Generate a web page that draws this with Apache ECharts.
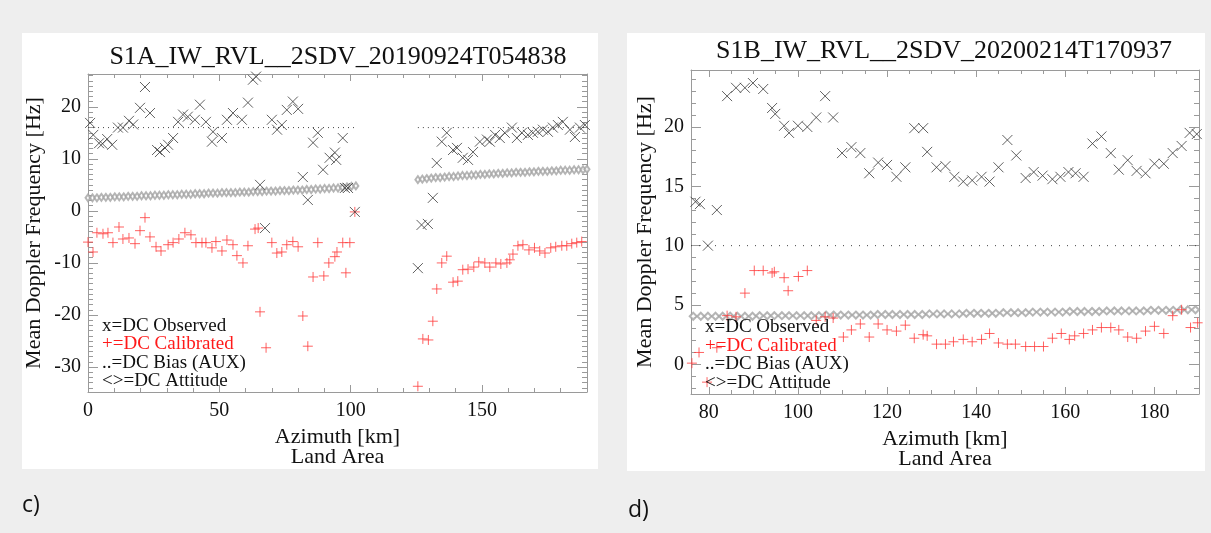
<!DOCTYPE html>
<html>
<head>
<meta charset="utf-8">
<script src="https://cdn.jsdelivr.net/npm/echarts@6/dist/echarts.min.js"></script>
<style>
html,body{margin:0;padding:0;background:#eeeeee;}
#chart{width:1211px;height:533px;}
</style>
</head>
<body>
<div id="chart"></div>
<script>
// ---------- Panel c) S1A scene ----------
const titleA = 'S1A_IW_RVL__2SDV_20190924T054838';
const xRangeA = [0, 190];
const yRangeA = [-34.8, 26.3];
const xTicksA = [0, 50, 100, 150];
const yTicksA = [-30, -20, -10, 0, 10, 20];
const xMinorStepA = 10;
const yMinorStepA = 1;

// DC observed [azimuth km, Hz]
const observedA = [
  [0.8,16.9],[2.0,14.6],[4.2,13.0],[5.5,12.9],[7.3,13.8],[9.2,12.7],[11.4,16.0],[13.3,16.0],
  [15.6,17.3],[17.2,16.6],[19.8,19.8],[21.7,23.8],[23.6,18.8],[26.3,11.7],[27.4,11.3],[29.3,12.1],
  [30.5,12.7],[32.4,14.0],[34.3,17.1],[36.2,18.5],[38.0,18.1],[40.7,17.5],[42.6,20.4],[44.9,17.1],
  [47.2,13.3],[47.6,15.2],[51.0,14.0],[52.9,17.5],[55.2,18.8],[58.6,17.5],[60.9,20.8],[62.8,25.2],
  [64.0,25.8],[65.5,5.0],[67.4,-3.3],[70.0,17.5],[72.0,15.6],[73.8,16.5],[75.7,19.4],[78.0,21.0],
  [80.0,19.6],[81.8,6.5],[83.7,2.1],[85.7,13.1],[87.5,15.0],[89.5,7.9],[92.0,10.2],[94.0,11.2],
  [94.5,9.8],[97.0,14.0],[97.8,4.4],[99.0,4.4],[101.6,-0.2],
  [125.6,-11.0],[127.0,-2.7],[129.4,-2.5],[131.3,2.5],[132.8,9.2],[134.7,13.3],[136.6,15.0],
  [139.0,11.7],[140.5,12.1],[142.7,10.2],[144.7,9.8],[146.6,11.3],[149.2,13.3],[151.9,13.7],
  [153.0,13.3],[155.0,14.6],[156.8,14.0],[158.7,15.0],[161.4,16.0],[163.3,14.0],[165.2,15.0],
  [167.5,14.6],[169.4,15.0],[171.3,15.2],[173.2,15.6],[175.1,15.2],[177.0,16.0],[178.9,16.5],
  [180.8,17.1],[183.5,15.6],[185.4,14.2],[187.3,16.0],[189.2,16.5]
];
// DC calibrated [azimuth km, Hz]
const calibratedA = [
  [0.0,-6.0],[1.9,-7.9],[3.4,-4.2],[5.7,-4.4],[7.6,-4.2],[9.5,-6.1],[11.8,-3.1],[13.3,-5.4],
  [15.6,-5.2],[17.9,-6.3],[19.8,-3.8],[21.7,-1.3],[23.6,-5.0],[25.9,-6.9],[27.8,-7.7],[30.5,-6.5],
  [32.4,-6.1],[34.6,-5.4],[36.9,-4.2],[39.2,-4.6],[41.1,-6.1],[43.4,-6.1],[44.9,-6.1],[47.2,-7.1],
  [48.7,-5.9],[51.0,-7.7],[52.9,-5.6],[55.2,-6.5],[56.7,-8.6],[59.0,-10.0],[60.9,-6.7],[63.6,-3.5],
  [64.8,-3.3],[65.5,-19.4],[67.8,-26.3],[70.0,-6.1],[71.9,-8.1],[73.8,-7.9],[75.7,-6.5],[78.0,-5.9],
  [80.0,-6.9],[81.8,-20.2],[83.7,-26.0],[85.7,-12.7],[87.5,-6.1],[89.8,-12.5],[91.7,-10.0],[94.0,-8.8],
  [94.8,-7.9],[97.0,-6.1],[98.2,-11.9],[99.7,-6.1],[101.6,-0.2],
  [125.6,-33.7],[127.5,-24.6],[129.6,-24.8],[131.3,-21.2],[132.8,-15.0],[134.7,-10.0],[136.6,-8.7],
  [139.0,-13.7],[140.8,-13.5],[142.7,-11.3],[144.7,-11.2],[146.9,-10.8],[148.8,-9.8],[151.1,-10.0],
  [153.0,-10.8],[155.3,-10.0],[157.2,-10.2],[159.5,-10.0],[160.6,-9.4],[161.8,-8.3],[163.7,-6.7],
  [165.6,-6.5],[167.9,-7.5],[170.0,-7.1],[172.0,-7.7],[174.0,-8.1],[176.2,-7.1],[178.1,-6.9],
  [180.4,-6.7],[182.3,-6.7],[184.2,-6.3],[186.1,-6.1],[188.0,-5.9]
];
// DC attitude [azimuth km, Hz]
const attitudeA = [
  [0,2.5],[1.7,2.5],[3.4,2.5],[5.1,2.6],[6.8,2.6],[8.5,2.6],[10.2,2.7],[11.9,2.7],[13.6,2.7],
  [15.3,2.8],[17,2.8],[18.7,2.8],[20.4,2.9],[22.1,2.9],[23.8,2.9],[25.5,3.0],[27.2,3.0],[28.9,3.0],
  [30.6,3.1],[32.3,3.1],[34,3.1],[35.7,3.2],[37.4,3.2],[39.1,3.2],[40.8,3.3],[42.5,3.3],[44.2,3.3],
  [45.9,3.4],[47.6,3.4],[49.3,3.4],[51,3.5],[52.7,3.5],[54.4,3.5],[56.1,3.5],[57.8,3.6],[59.5,3.6],
  [61.2,3.6],[62.9,3.7],[64.6,3.7],[66.3,3.7],[68,3.8],[69.7,3.8],[71.4,3.8],[73.1,3.9],[74.8,3.9],
  [76.5,3.9],[78.2,4.0],[79.9,4.0],[81.6,4.0],[83.3,4.1],[85,4.1],[86.7,4.2],[88.4,4.2],[90.1,4.3],
  [91.8,4.3],[93.5,4.4],[95.2,4.4],[96.9,4.5],[98.6,4.6],[100.3,4.7],[102,4.8],
  [125.6,6.0],[127.3,6.1],[129,6.2],[130.7,6.3],[132.4,6.4],[134.1,6.4],[135.8,6.5],[137.5,6.6],
  [139.2,6.6],[140.9,6.7],[142.6,6.8],[144.3,6.8],[146,6.9],[147.7,6.9],[149.4,7.0],[151.1,7.0],
  [152.8,7.1],[154.5,7.1],[156.2,7.2],[157.9,7.2],[159.6,7.3],[161.3,7.3],[163,7.4],[164.7,7.4],
  [166.4,7.4],[168.1,7.5],[169.8,7.5],[171.5,7.6],[173.2,7.6],[174.9,7.6],[176.6,7.7],[178.3,7.7],
  [180,7.8],[181.7,7.8],[183.4,7.8],[185.1,7.9],[186.8,7.9],[188.5,7.9],[190,8.0]
];
// DC bias (AUX): [start km, end km, Hz]
const biasA = [[0, 101.6, 16], [125.6, 190, 16]];

// ---------- Panel d) S1B scene ----------
const titleB = 'S1B_IW_RVL__2SDV_20200214T170937';
const xRangeB = [76, 190];
const yRangeB = [-2.5, 24.8];
const xTicksB = [80, 100, 120, 140, 160, 180];
const yTicksB = [0, 5, 10, 15, 20];
const xMinorStepB = 5;
const yMinorStepB = 1;

const observedB = [
  [77.0,13.7],[78.0,13.5],[79.8,10.0],[81.8,13.0],[84.1,22.6],[86.1,23.3],[88.1,23.3],[89.9,23.7],
  [92.2,23.2],[94.2,21.6],[94.9,21.1],[96.9,20.1],[98.0,19.5],[100.0,20.1],[102.1,20.0],[104.1,20.8],
  [106.1,22.6],[107.9,20.8],[109.9,17.8],[112.0,18.3],[114.0,17.8],[116.0,16.1],[118.0,17.0],
  [120.0,16.8],[122.1,15.8],[124.1,16.6],[126.1,19.9],[128.1,19.9],[129.0,17.9],[131.1,16.6],
  [133.1,16.7],[135.1,15.8],[137.1,15.4],[139.1,15.5],[141.2,15.8],[143.0,15.4],[145.0,16.6],
  [147.0,18.9],[149.0,17.6],[151.1,15.7],[152.9,16.2],[154.9,15.9],[157.1,15.6],[158.9,15.8],
  [160.7,16.2],[162.3,16.1],[164.1,15.8],[166.1,18.6],[168.1,19.2],[170.2,17.8],[172.0,16.4],
  [174.0,17.2],[176.0,16.3],[178.0,16.1],[180.0,16.9],[182.1,16.9],[184.1,17.8],[186.1,18.4],
  [187.9,19.5],[189.5,19.4]
];
const calibratedB = [
  [76.2,0.1],[77.8,1.0],[79.6,-1.5],[81.8,1.4],[84.1,4.1],[86.1,4.0],[88.1,6.0],[90.2,7.9],
  [92.2,7.9],[94.2,7.7],[94.7,7.8],[96.9,7.3],[97.8,6.2],[100.1,7.4],[102.1,7.9],[104.1,3.7],
  [106.1,4.0],[107.9,3.9],[110.2,2.3],[112.0,2.9],[114.0,3.4],[116.0,2.3],[118.0,3.4],[120.0,2.9],
  [122.1,2.8],[124.1,3.3],[126.1,2.2],[128.1,2.5],[129.0,2.4],[131.1,1.7],[133.1,1.7],[134.9,1.9],
  [137.1,2.1],[139.1,1.9],[141.2,2.1],[143.0,2.6],[145.0,1.8],[147.0,1.7],[148.8,1.7],[151.1,1.5],
  [153.1,1.5],[155.1,1.5],[157.1,2.2],[159.1,2.6],[160.9,2.1],[162.1,2.4],[164.1,2.6],[166.1,2.9],
  [168.1,3.1],[170.2,3.1],[172.0,2.9],[174.0,2.3],[176.0,2.2],[178.0,2.8],[180.0,3.2],[182.1,2.6],
  [184.1,4.1],[186.1,4.6],[188.1,3.1],[189.7,3.5]
];
const attitudeB = [
  [76.5,4.05],[78.2,4.05],[79.8,4.05],[81.5,4.05],[83.1,4.05],[84.8,4.05],[86.4,4.05],[88.1,4.05],
  [89.8,4.05],[91.4,4.1],[93.1,4.1],[94.7,4.1],[96.4,4.1],[98.0,4.1],[99.7,4.1],[101.4,4.1],
  [103.0,4.1],[104.7,4.1],[106.3,4.15],[108.0,4.15],[109.6,4.15],[111.3,4.15],[113.0,4.15],
  [114.6,4.15],[116.3,4.15],[117.9,4.2],[119.6,4.2],[121.2,4.2],[122.9,4.2],[124.6,4.2],[126.2,4.2],
  [127.9,4.2],[129.5,4.25],[131.2,4.25],[132.8,4.25],[134.5,4.25],[136.2,4.25],[137.8,4.3],
  [139.5,4.3],[141.1,4.3],[142.8,4.3],[144.4,4.3],[146.1,4.35],[147.8,4.35],[149.4,4.35],
  [151.1,4.35],[152.7,4.4],[154.4,4.4],[156.0,4.4],[157.7,4.4],[159.4,4.4],[161.0,4.45],[162.7,4.45],
  [164.3,4.45],[166.0,4.45],[167.6,4.45],[169.3,4.5],[171.0,4.5],[172.6,4.5],[174.3,4.5],[175.9,4.5],
  [177.6,4.5],[179.2,4.55],[180.9,4.55],[182.6,4.55],[184.2,4.55],[185.9,4.6],[187.5,4.6],[189.2,4.6]
];
const biasB = [[76, 190, 10]];

const legendLines = ['x=DC Observed', '+=DC Calibrated', '..=DC Bias (AUX)', '<>=DC Attitude'];
const legendColors = ['#111111', '#ff1a1a', '#111111', '#111111'];

// ---------- drawing ----------
const SERIF = '"Liberation Serif", "DejaVu Serif", serif';
const AXIS_GREY = '#9a9a9a';
const CROSS = 'path://M0,0L10,10M10,0L0,10';
const PLUS = 'path://M5,0L5,10M0,5L10,5';

function stepValues(range, step) {
  const out = [];
  const first = Math.ceil(range[0] / step) * step;
  for (let v = first; v <= range[1] + 1e-9; v += step) out.push(+v.toFixed(6));
  return out;
}

function makeAxes(dim, grid, range, major, minor, majorLen, minorLen, sides, name, nameGap) {
  const axes = [];
  sides.forEach((side, si) => {
    const base = {
      type: 'value', gridIndex: grid, position: side, min: range[0], max: range[1],
      splitLine: { show: false }
    };
    axes.push(Object.assign({}, base, {
      axisLine: { show: true, onZero: false, lineStyle: { color: AXIS_GREY, width: 1 } },
      axisTick: { show: true, inside: true, length: majorLen, customValues: major,
                  lineStyle: { color: AXIS_GREY, width: 1 } },
      axisLabel: si === 0 ? { show: true, customValues: major, color: '#111', fontFamily: SERIF,
                              fontSize: 20, margin: dim === 'x' ? 9 : 7 } : { show: false },
      name: si === 0 ? name : '',
      nameLocation: 'middle',
      nameGap: nameGap,
      nameRotate: dim === 'y' ? 90 : 0,
      nameTextStyle: { color: '#111', fontFamily: SERIF, fontSize: 22, lineHeight: 20 }
    }));
    axes.push(Object.assign({}, base, {
      axisLine: { show: false, onZero: false },
      axisTick: { show: true, inside: true, length: minorLen, customValues: minor,
                  lineStyle: { color: AXIS_GREY, width: 1 } },
      axisLabel: { show: false }
    }));
  });
  return axes;
}

const xAxes = [].concat(
  makeAxes('x', 0, xRangeA, xTicksA, stepValues(xRangeA, xMinorStepA), 7, 4, ['bottom', 'top'],
           'Azimuth [km]\nLand Area', 35),
  makeAxes('x', 1, xRangeB, xTicksB, stepValues(xRangeB, xMinorStepB), 7, 4, ['bottom', 'top'],
           'Azimuth [km]\nLand Area', 35)
);
const yAxes = [].concat(
  makeAxes('y', 0, yRangeA, yTicksA, stepValues(yRangeA, yMinorStepA), 10, 5, ['left', 'right'],
           'Mean Doppler Frequency [Hz]', 44),
  makeAxes('y', 1, yRangeB, yTicksB, stepValues(yRangeB, yMinorStepB), 10, 5, ['left', 'right'],
           'Mean Doppler Frequency [Hz]', 36)
);

function panelSeries(axisIndex, observed, calibrated, attitude, bias, dotGap, diamondSize) {
  const list = [];
  bias.forEach(seg => {
    list.push({
      type: 'line', xAxisIndex: axisIndex, yAxisIndex: axisIndex, symbol: 'none', silent: true,
      data: [[seg[0], seg[2]], [seg[1], seg[2]]],
      lineStyle: { color: '#444', width: 1, type: [1, dotGap] }, z: 1
    });
  });
  list.push({
    type: 'scatter', xAxisIndex: axisIndex, yAxisIndex: axisIndex, data: attitude,
    symbol: 'emptyDiamond', symbolSize: diamondSize,
    itemStyle: { color: '#a2a2a2', borderColor: '#a2a2a2', borderWidth: 0.8 }, z: 2
  });
  list.push({
    type: 'scatter', xAxisIndex: axisIndex, yAxisIndex: axisIndex, data: calibrated,
    symbol: PLUS, symbolSize: 10,
    itemStyle: { color: 'rgba(0,0,0,0)', borderColor: '#ff3b3b', borderWidth: 1 }, z: 3
  });
  list.push({
    type: 'scatter', xAxisIndex: axisIndex, yAxisIndex: axisIndex, data: observed,
    symbol: CROSS, symbolSize: 10,
    itemStyle: { color: 'rgba(0,0,0,0)', borderColor: '#3a3a3a', borderWidth: 1 }, z: 4
  });
  return list;
}

function legendTexts(x, y0, dy) {
  return legendLines.map((t, i) => ({
    type: 'text', x: x, y: y0 + i * dy, z: 20,
    style: { text: t, fill: legendColors[i], fontFamily: SERIF, fontSize: 19,
             textAlign: 'left', textVerticalAlign: 'middle' }
  }));
}

const graphics = [
  { type: 'rect', shape: { x: 22, y: 33, width: 576, height: 436 }, style: { fill: '#ffffff' }, z: -10 },
  { type: 'rect', shape: { x: 627, y: 33, width: 578, height: 438 }, style: { fill: '#ffffff' }, z: -10 },
  { type: 'text', x: 338, y: 57, style: { text: titleA, fill: '#111', fontFamily: SERIF, fontSize: 26,
    textAlign: 'center', textVerticalAlign: 'middle' } },
  { type: 'text', x: 944, y: 51, style: { text: titleB, fill: '#111', fontFamily: SERIF, fontSize: 26,
    textAlign: 'center', textVerticalAlign: 'middle' } },
  { type: 'text', x: 22, y: 505, style: { text: 'c)', fill: '#111', fontFamily: '"Open Sans", sans-serif',
    fontSize: 23, textAlign: 'left', textVerticalAlign: 'middle' } },
  { type: 'text', x: 628, y: 510, style: { text: 'd)', fill: '#111', fontFamily: '"Open Sans", sans-serif',
    fontSize: 23, textAlign: 'left', textVerticalAlign: 'middle' } }
].concat(legendTexts(102, 326, 18.5), legendTexts(705, 327, 18.7));

const chart = echarts.init(document.getElementById('chart'), null, { renderer: 'canvas' });
chart.setOption({
  backgroundColor: '#eeeeee',
  animation: false,
  grid: [
    { left: 88, top: 74, width: 499, height: 318 },
    { left: 691, top: 70, width: 508, height: 324 }
  ],
  xAxis: xAxes,
  yAxis: yAxes,
  graphic: graphics,
  series: [].concat(
    panelSeries(0, observedA, calibratedA, attitudeA, biasA, 4, [5, 7]),
    panelSeries(4, observedB, calibratedB, attitudeB, biasB, 7, [7, 7])
  )
});
</script>
</body>
</html>
